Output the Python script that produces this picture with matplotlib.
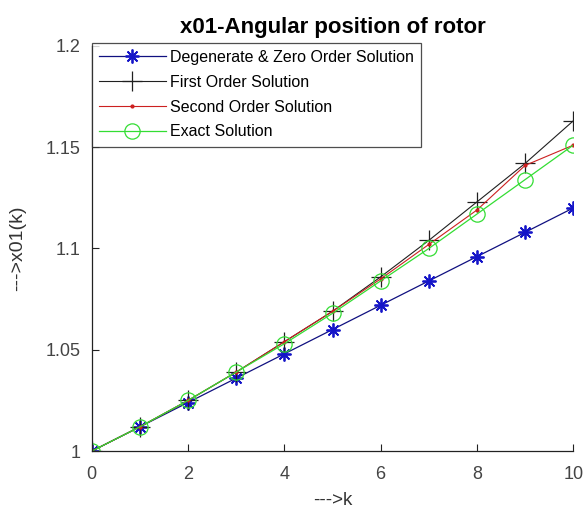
import matplotlib
matplotlib.use("Agg")
import matplotlib.pyplot as plt

k = list(range(11))
degenerate = [1.000, 1.012, 1.024, 1.036, 1.048, 1.060, 1.072, 1.084, 1.096, 1.108, 1.120]
first_order = [1.000, 1.012, 1.025, 1.039, 1.054, 1.069, 1.086, 1.104, 1.123, 1.142, 1.163]
second_order = [1.000, 1.012, 1.025, 1.039, 1.054, 1.069, 1.085, 1.102, 1.119, 1.141, 1.151]
exact = [1.000, 1.012, 1.025, 1.039, 1.053, 1.068, 1.084, 1.100, 1.117, 1.134, 1.151]

labels = ["Degenerate & Zero Order Solution", "First Order Solution",
          "Second Order Solution", "Exact Solution"]
xticks = [0, 2, 4, 6, 8, 10]
yticks = [1, 1.05, 1.1, 1.15, 1.2]
ytick_labels = ["1", "1.05", "1.1", "1.15", "1.2"]

plt.rcParams['font.family'] = ['Liberation Sans', 'DejaVu Sans']

fig = plt.figure(figsize=(5.88, 5.15), dpi=100)
ax = fig.add_axes([0.156, 0.124, 0.819, 0.787])

ax.plot(k, degenerate, color='#101080', lw=0.9, marker=(8, 2, 0), ms=10, mew=1.3,
        mec='#1515c8', label=labels[0])
ax.plot(k, first_order, color='#202020', lw=0.8, marker='+', ms=14, mew=0.9, label=labels[1])
ax.plot(k, second_order, color='#cc2020', lw=0.8, marker='.', ms=4, label=labels[2])
ax.plot(k, exact, color='#33dd33', lw=0.9, marker='o', ms=11, mfc='none', mew=0.9, label=labels[3])

ax.set_xlim(0, 10)
ax.set_ylim(1, 1.2)
ax.set_xticks(xticks)
ax.set_yticks(yticks)
ax.set_yticklabels(ytick_labels)
for s in ['top', 'right']:
    ax.spines[s].set_visible(False)
for s in ['left', 'bottom']:
    ax.spines[s].set_color('#222222')
    ax.spines[s].set_linewidth(0.9)
ax.tick_params(direction='in', length=5, labelsize=13, colors='#222222', labelcolor='#444444')
ax.tick_params(axis='x', pad=11)
ax.tick_params(axis='y', pad=8)

ax.set_title("x01-Angular position of rotor", fontsize=16, fontweight='bold', pad=9)
ax.set_xlabel("--->k", fontsize=13.5, color='#333333', labelpad=6)
ax.set_ylabel("--->x01(k)", fontsize=14, color='#333333', labelpad=14)

leg = ax.legend(loc='upper left', bbox_to_anchor=(0.0, 1.008), fontsize=11.5, frameon=True,
                fancybox=False, edgecolor='#222222', handlelength=4.2, handletextpad=0.25,
                borderaxespad=0.0, labelspacing=0.62, borderpad=0.45)
leg.get_frame().set_linewidth(0.9)

fig.savefig("out.png", dpi=100)
